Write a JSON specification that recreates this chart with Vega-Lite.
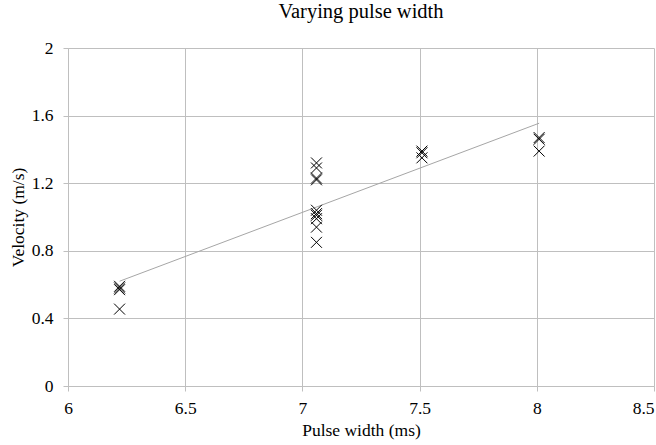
{
  "$schema": "https://vega.github.io/schema/vega-lite/v6.json",
  "width": 586,
  "height": 338,
  "autosize": {"type": "none"},
  "padding": {"left": 68, "top": 48, "right": 2, "bottom": 59},
  "background": "white",
  "config": {
    "view": {"stroke": null},
    "font": "Liberation Serif",
    "axis": {
      "gridColor": "#bfbfbf",
      "gridOpacity": 1,
      "gridWidth": 1,
      "domainColor": "#bfbfbf",
      "tickColor": "#bfbfbf",
      "tickSize": 5,
      "labelColor": "#000000",
      "titleFontWeight": "normal",
      "titleColor": "#000000"
    }
  },
  "title": {
    "text": "Varying pulse width",
    "font": "Liberation Serif",
    "fontSize": 20.5,
    "fontWeight": "normal",
    "color": "#000000",
    "offset": 17
  },
  "datasets": {
    "points": [
      {"pulse": 6.22, "velocity": 0.59},
      {"pulse": 6.22, "velocity": 0.58},
      {"pulse": 6.22, "velocity": 0.57},
      {"pulse": 6.22, "velocity": 0.455},
      {"pulse": 7.06, "velocity": 1.32},
      {"pulse": 7.06, "velocity": 1.29},
      {"pulse": 7.06, "velocity": 1.23},
      {"pulse": 7.06, "velocity": 1.22},
      {"pulse": 7.06, "velocity": 1.04},
      {"pulse": 7.06, "velocity": 1.02},
      {"pulse": 7.06, "velocity": 1.01},
      {"pulse": 7.06, "velocity": 0.99},
      {"pulse": 7.06, "velocity": 0.94},
      {"pulse": 7.06, "velocity": 0.85},
      {"pulse": 7.51, "velocity": 1.39},
      {"pulse": 7.51, "velocity": 1.38},
      {"pulse": 7.51, "velocity": 1.35},
      {"pulse": 8.01, "velocity": 1.47},
      {"pulse": 8.01, "velocity": 1.46},
      {"pulse": 8.01, "velocity": 1.39}
    ],
    "trend": [
      {"pulse": 6.22, "velocity": 0.62},
      {"pulse": 8.01, "velocity": 1.555}
    ]
  },
  "encoding": {
    "x": {
      "field": "pulse",
      "type": "quantitative",
      "scale": {"domain": [6, 8.5], "nice": false, "zero": false},
      "axis": {
        "title": "Pulse width (ms)",
        "values": [6, 6.5, 7, 7.5, 8, 8.5],
        "format": "~g",
        "labelFont": "Liberation Serif",
        "labelFontSize": 17.5,
        "titleFont": "Liberation Serif",
        "titleFontSize": 17.5,
        "labelPadding": 8,
        "titlePadding": 5,
        "labelFlush": false,
        "labelAlign": {"condition": {"test": "datum.value >= 8.5", "value": "right"}, "value": "center"},
        "labelOverlap": false
      }
    },
    "y": {
      "field": "velocity",
      "type": "quantitative",
      "scale": {"domain": [0, 2], "nice": false},
      "axis": {
        "title": "Velocity (m/s)",
        "values": [0, 0.4, 0.8, 1.2, 1.6, 2],
        "format": "~g",
        "labelFont": "Liberation Serif",
        "labelFontSize": 17.5,
        "titleFont": "Liberation Serif",
        "titleFontSize": 17.5,
        "labelPadding": 10,
        "titlePadding": 4,
        "labelFlush": false,
        "labelOverlap": false
      }
    }
  },
  "layer": [
    {
      "data": {"name": "trend"},
      "mark": {"type": "line", "color": "#a6a6a6", "strokeWidth": 1}
    },
    {
      "data": {"name": "points"},
      "mark": {
        "type": "point",
        "shape": "M-1,-1L1,1M-1,1L1,-1",
        "size": 120,
        "filled": false,
        "stroke": "#000000",
        "strokeWidth": 1,
        "opacity": 1
      }
    }
  ]
}
